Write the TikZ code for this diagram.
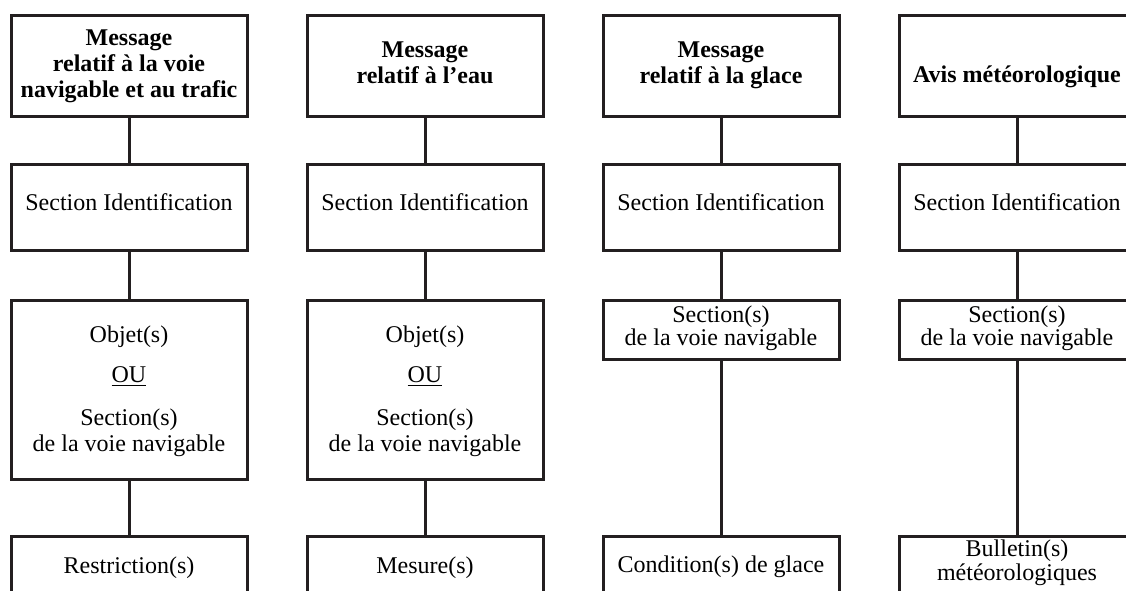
\documentclass[tikz,border=0pt]{standalone}
\usepackage{fontspec}
\setmainfont{Liberation Serif}
\definecolor{ink}{HTML}{231F20}
\begin{document}
\begin{tikzpicture}[x=0.5pt,y=-0.5pt,
  box/.style={draw=ink, line width=1.5pt, inner sep=0pt, minimum width=118pt},
  toprow/.style={box, minimum height=50.5pt},
  idrow/.style={box, minimum height=43pt},
  bigrow/.style={box, minimum height=89.5pt},
  smallrow/.style={box, minimum height=29.5pt},
  lastrow/.style={box, minimum height=64pt},
  conn/.style={draw=ink, line width=1.5pt},
  txt/.style={anchor=base, inner sep=0pt, font=\fontsize{12}{13}\selectfont},
  btxt/.style={anchor=base, inner sep=0pt, font=\fontsize{12}{13}\selectfont\bfseries}]
\clip (0,0) rectangle (1126,590);
\fill[white] (0,0) rectangle (1126,590);

% boxes
\node[toprow] (h1) at (129,65.5) {};
\node[toprow] (h2) at (425,65.5) {};
\node[toprow] (h3) at (721,65.5) {};
\node[toprow] (h4) at (1017,65.5) {};

\node[idrow] (s1) at (129,207) {};
\node[idrow] (s2) at (425,207) {};
\node[idrow] (s3) at (721,207) {};
\node[idrow] (s4) at (1017,207) {};

\node[bigrow] (o1) at (129,389.5) {};
\node[bigrow] (o2) at (425,389.5) {};
\node[smallrow] (o3) at (721,329.5) {};
\node[smallrow] (o4) at (1017,329.5) {};

\node[lastrow] (r1) at (129,600) {};
\node[lastrow] (r2) at (425,600) {};
\node[lastrow] (r3) at (721,600) {};
\node[lastrow] (r4) at (1017,600) {};

% connectors
\foreach \i in {1,2,3,4}{
  \draw[conn] (h\i.south) -- (s\i.north);
  \draw[conn] (s\i.south) -- (o\i.north);
  \draw[conn] (o\i.south) -- (r\i.north);
}

% texts row 1
\node[btxt] (t1a) at (129,45.5) {Message};
\node[btxt] (t1b) at (129,71.5) {relatif à la voie};
\node[btxt] (t1c) at (129,97.5) {navigable et au trafic};
\node[btxt] (t2a) at (425,57) {Message};
\node[btxt] (t2b) at (425,83) {relatif à l’eau};
\node[btxt] (t3a) at (721,57) {Message};
\node[btxt] (t3b) at (721,83) {relatif à la glace};
\node[btxt] (t4a) at (1017,82) {Avis météorologique};

% texts row 2
\node[txt] (i1) at (129,210) {Section Identification};
\node[txt] (i2) at (425,210) {Section Identification};
\node[txt] (i3) at (721,210) {Section Identification};
\node[txt] (i4) at (1017,210) {Section Identification};

% texts row 3
\node[txt] (ob1) at (129,342) {Objet(s)};
\node[txt] (ou1) at (129,382) {\underline{OU}};
\node[txt] (se1) at (129,425) {Section(s)};
\node[txt] (vn1) at (129,451) {de la voie navigable};
\node[txt] (ob2) at (425,342) {Objet(s)};
\node[txt] (ou2) at (425,382) {\underline{OU}};
\node[txt] (se2) at (425,425) {Section(s)};
\node[txt] (vn2) at (425,451) {de la voie navigable};
\node[txt] (se3) at (721,322) {Section(s)};
\node[txt] (vn3) at (721,345) {de la voie navigable};
\node[txt] (se4) at (1017,322) {Section(s)};
\node[txt] (vn4) at (1017,345) {de la voie navigable};

% texts row 4
\node[txt] (l1) at (129,573) {Restriction(s)};
\node[txt] (l2) at (425,573) {Mesure(s)};
\node[txt] (l3) at (721,572) {Condition(s) de glace};
\node[txt] (l4a) at (1017,556) {Bulletin(s)};
\node[txt] (l4b) at (1017,580) {météorologiques};
\end{tikzpicture}
\end{document}
